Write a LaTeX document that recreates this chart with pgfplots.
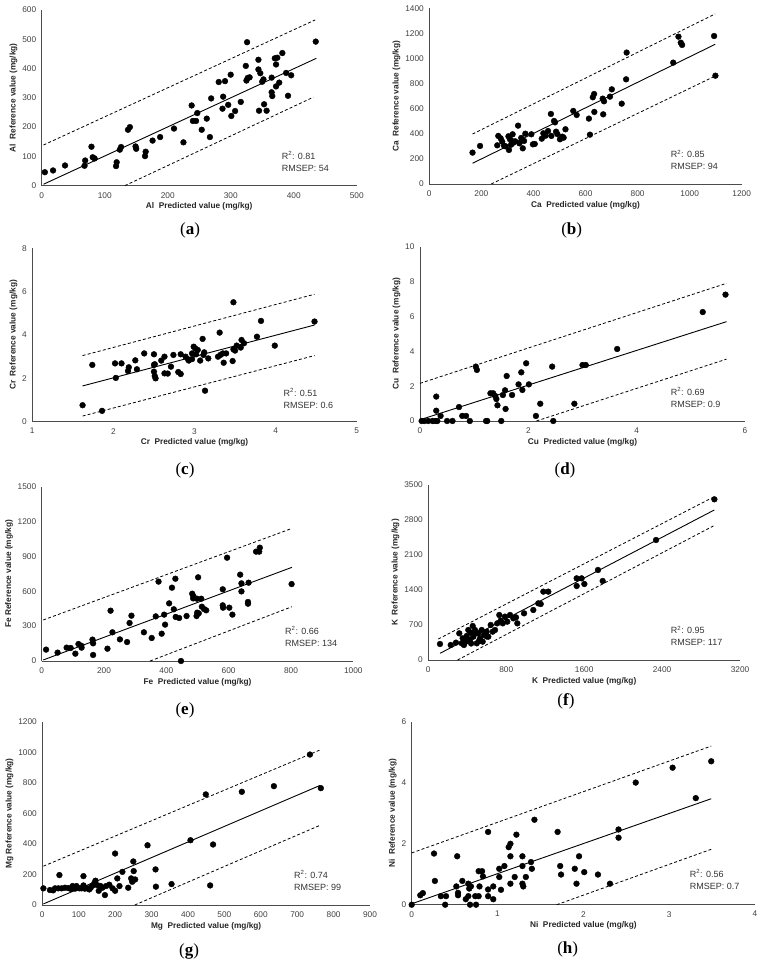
\documentclass[border=0pt]{standalone}
\usepackage{fontspec}
\setmainfont{Liberation Sans}
\newfontfamily\capfont{Liberation Serif}
\usepackage{pgfplots}
\pgfplotsset{compat=1.18}
\pgfplotsset{
  panel/.style={
    scale only axis, anchor=south west, clip=false,
    axis x line*=bottom, axis y line*=left,
    axis line style={black!70, line width=0.9pt},
    major tick length=0pt,
    /pgf/number format/assume math mode=true,
    /pgf/number format/1000 sep={},
    scaled ticks=false,
    tick label style={font=\fontsize{8.3}{9}\selectfont, text=black!75},
    xticklabel style={yshift=-3pt},
    yticklabel style={xshift=-2pt},
    label style={font=\bfseries\fontsize{8.3}{9}\selectfont, text=black!85},
    xlabel style={yshift=2pt},
    ylabel style={yshift=-2pt},
  },
  pts/.style={only marks, mark=*, mark size=2.9pt, black},
  fit/.style={no marks, black, line width=0.9pt},
  band/.style={no marks, black, line width=0.8pt, dash pattern=on 3pt off 2.2pt},
}
\newcommand{\stat}[3]{\node[anchor=west, align=left, font=\fontsize{9}{12}\selectfont, text=black!80] at (rel axis cs:#1) {R\textsuperscript{2}: #2\\RMSEP: #3};}
\begin{document}
\begin{tikzpicture}
\path[use as bounding box] (0pt,0pt) rectangle (763pt,965pt);
% (a)
\begin{axis}[panel, at={(41.7pt,779.3pt)}, width=315pt, height=175.7pt,
  xmin=0, xmax=500, ymin=0, ymax=600, xtick={0,100,...,500}, ytick={0,100,...,600},
  xlabel={Al\ \ Predicted value (mg/kg)}, ylabel={Al\ \ Reference value (mg/kg)}]
\addplot[band] coordinates {(3,139)(434,566)};
\addplot[band] coordinates {(132,0)(431,302)};
\addplot[fit] coordinates {(3,5)(436,435)};
\addplot[pts] coordinates {(5,46)(18,52)(37,69)(68,68)(69,86)(79,133)(81,97)(84,93)(118,67)(119,80)(124,123)(126,132)(137,191)(140,200)(149,134)(150,126)(164,101)(165,116)(176,154)(188,166)(210,195)(225,148)(238,274)(240,221)(245,221)(247,248)(254,191)(262,229)(267,166)(269,298)(281,354)(287,263)(288,304)(291,357)(296,276)(300,379)(301,238)(307,255)(316,286)(324,409)(326,490)(325,359)(327,368)(330,370)(344,430)(344,397)(345,256)(347,384)(350,355)(352,363)(353,278)(357,256)(365,369)(365,319)(366,306)(370,435)(372,414)(372,339)(374,437)(377,352)(382,453)(388,385)(391,307)(396,377)(435,492)};
\stat{0.751,0.14}{0.81}{54}
\end{axis}
% (b)
\begin{axis}[panel, at={(429.3pt,781pt)}, width=312.4pt, height=175.7pt,
  xmin=0, xmax=1200, ymin=0, ymax=1400, xtick={0,200,...,1200}, ytick={0,200,...,1400},
  xlabel={Ca\ \ Predicted value (mg/kg)}, ylabel={Ca\ \ Reference value (mg/kg)}]
\addplot[band] coordinates {(166,398)(1098,1355)};
\addplot[band] coordinates {(238,0)(1098,860)};
\addplot[fit] coordinates {(166,165)(1098,1113)};
\addplot[pts] coordinates {(166,250)(195,303)(261,308)(265,383)(274,364)(280,337)(287,305)(293,300)(304,380)(306,271)(310,356)(314,313)(317,343)(320,396)(323,329)(330,340)(341,465)(346,324)(353,367)(359,284)(364,343)(369,401)(392,396)(398,316)(405,319)(432,361)(438,404)(447,385)(456,422)(467,558)(469,383)(479,502)(483,491)(487,417)(492,398)(502,356)(511,377)(516,369)(523,436)(553,582)(566,550)(613,521)(617,393)(628,691)(633,717)(634,574)(668,555)(666,680)(671,659)(694,696)(701,754)(739,640)(756,834)(758,1047)(937,967)(957,1174)(966,1126)(971,1108)(1094,1179)(1099,863)};
\stat{0.762,0.137}{0.85}{94}
\end{axis}
% (c)
\begin{axis}[panel, at={(32.3pt,543.3pt)}, width=324.4pt, height=173.4pt,
  xmin=1, xmax=5, ymin=0, ymax=8, xtick={1,2,3,4,5}, ytick={0,2,4,6,8},
  xlabel={Cr\ \ Predicted value (mg/kg)}, ylabel={Cr\ \ Reference value (mg/kg)}]
\addplot[band] coordinates {(1.62,3.05)(4.48,5.88)};
\addplot[band] coordinates {(1.62,0.26)(4.48,3.05)};
\addplot[fit] coordinates {(1.62,1.65)(4.48,4.46)};
\addplot[pts] coordinates {(1.62,0.76)(1.86,0.5)(1.74,2.62)(2.02,2.69)(2.03,2.02)(2.10,2.69)(2.18,2.34)(2.19,2.51)(2.27,2.83)(2.29,2.42)(2.38,3.15)(2.50,3.11)(2.50,2.62)(2.51,2.65)(2.50,2.31)(2.51,2.11)(2.52,2.0)(2.59,2.82)(2.63,3.0)(2.63,2.23)(2.67,2.22)(2.71,2.54)(2.74,3.08)(2.80,2.29)(2.83,3.11)(2.83,2.20)(2.89,3.0)(2.92,2.88)(2.93,2.82)(2.97,3.15)(2.97,2.89)(2.99,3.46)(3.01,3.38)(3.02,3.11)(3.04,3.31)(3.07,2.82)(3.10,3.82)(3.11,3.08)(3.12,3.2)(3.13,1.43)(3.17,2.92)(3.31,4.11)(3.29,3.0)(3.32,3.08)(3.35,3.15)(3.36,2.72)(3.39,3.15)(3.47,2.80)(3.48,3.34)(3.48,5.51)(3.50,3.28)(3.52,3.51)(3.57,3.42)(3.58,3.77)(3.61,3.62)(3.77,3.92)(3.82,4.65)(3.99,3.51)(4.48,4.62)};
\stat{0.764,0.133}{0.51}{0.6}
\end{axis}
% (d)
\begin{axis}[panel, at={(420pt,544pt)}, width=325pt, height=174.3pt,
  xmin=0, xmax=6, ymin=0, ymax=10, xtick={0,2,4,6}, ytick={0,2,...,10},
  xlabel={Cu\ \ Predicted value (mg/kg)}, ylabel={Cu\ \ Reference value (mg/kg)}]
\addplot[band] coordinates {(0,2.16)(5.66,7.9)};
\addplot[band] coordinates {(2.15,0)(5.66,3.55)};
\addplot[fit] coordinates {(0.03,0.1)(5.66,5.70)};
\addplot[pts] coordinates {(0.03,0)(0.08,0)(0.15,0)(0.23,0)(0.28,0)(0.32,0)(0.50,0)(0.60,0)(0.92,0)(1.22,0)(1.24,0)(1.50,0)(2.46,0)(0.30,1.40)(0.30,0.59)(0.38,0.29)(0.72,0.80)(0.78,0.29)(0.85,0.29)(1.03,3.12)(1.05,2.93)(1.30,1.59)(1.35,1.59)(1.39,1.43)(1.41,1.26)(1.43,0.90)(1.53,1.49)(1.57,1.76)(1.58,0.69)(1.60,2.58)(1.70,1.49)(1.82,2.10)(1.87,2.79)(1.89,1.78)(1.96,3.31)(2.01,2.10)(2.14,0.29)(2.22,0.99)(2.44,3.12)(2.85,0.99)(3.0,3.21)(3.06,3.21)(3.64,4.13)(5.22,6.25)(5.64,7.25)};
\stat{0.761,0.135}{0.69}{0.9}
\end{axis}
% (e)
\begin{axis}[panel, at={(41.7pt,304pt)}, width=311.6pt, height=174.3pt,
  xmin=0, xmax=1000, ymin=0, ymax=1500, xtick={0,200,...,1000}, ytick={0,300,...,1500},
  xlabel={Fe\ \ Predicted value (mg/kg)}, ylabel={Fe Reference value (mg/kg)}]
\addplot[band] coordinates {(5,353)(803,1141)};
\addplot[band] coordinates {(348,0)(803,467)};
\addplot[fit] coordinates {(5,9)(803,806)};
\addplot[pts] coordinates {(14,98)(51,72)(80,115)(93,112)(108,63)(118,146)(127,132)(128,115)(163,184)(165,152)(165,52)(211,106)(221,433)(227,247)(251,186)(274,163)(282,327)(288,390)(328,247)(353,198)(366,384)(375,683)(385,235)(393,399)(396,313)(409,496)(418,631)(424,445)(429,708)(430,379)(441,370)(447,0)(465,387)(483,579)(486,539)(487,556)(498,536)(502,720)(497,387)(499,416)(504,410)(512,536)(514,467)(521,447)(528,436)(581,617)(582,459)(581,479)(595,889)(602,459)(612,399)(637,743)(641,668)(641,599)(662,508)(664,674)(662,493)(688,941)(698,941)(700,975)(802,662)};
\stat{0.77,0.142}{0.66}{134}
\end{axis}
% (f)
\begin{axis}[panel, at={(428.3pt,305pt)}, width=311.7pt, height=175pt,
  xmin=0, xmax=3200, ymin=0, ymax=3500, xtick={0,800,...,3200}, ytick={0,700,...,3500},
  xlabel={K\ \ Predicted value (mg/kg)}, ylabel={K\ \ Reference value (mg/kg)}]
\addplot[band] coordinates {(103,420)(2936,3267)};
\addplot[band] coordinates {(300,0)(2936,2690)};
\addplot[fit] coordinates {(120,133)(2936,3000)};
\addplot[pts] coordinates {(120,320)(230,300)(284,347)(318,533)(343,333)(353,433)(366,300)(387,367)(394,480)(411,600)(428,400)(435,547)(456,680)(462,467)(479,600)(497,333)(513,533)(531,433)(548,600)(558,367)(572,500)(599,567)(616,467)(641,700)(661,567)(685,600)(708,733)(729,900)(743,787)(764,733)(787,867)(811,767)(839,900)(873,833)(900,853)(914,733)(983,933)(1078,1000)(1129,1133)(1154,1120)(1181,1367)(1232,1367)(1523,1633)(1523,1480)(1574,1633)(1602,1520)(1742,1800)(1790,1580)(2338,2400)(2937,3213)(380,420)(440,330)(520,380)(600,470)(470,520)};
\stat{0.767,0.137}{0.95}{117}
\end{axis}
% (g)
\begin{axis}[panel, at={(42.3pt,60pt)}, width=327.7pt, height=183.3pt,
  xmin=0, xmax=900, ymin=0, ymax=1200, xtick={0,100,...,900}, ytick={0,200,...,1200},
  xlabel={Mg\ \ Predicted value (mg/kg)}, ylabel={Mg Reference value (mg/kg)}]
\addplot[band] coordinates {(3,254)(763,1015)};
\addplot[band] coordinates {(254,0)(763,522)};
\addplot[fit] coordinates {(3,7)(763,783)};
\addplot[pts] coordinates {(3,109)(21,98)(30,96)(35,109)(44,109)(47,196)(53,109)(62,113)(71,111)(79,104)(83,124)(90,107)(94,124)(102,109)(108,109)(113,189)(113,128)(117,107)(124,109)(129,102)(133,113)(138,128)(143,143)(146,159)(151,130)(155,93)(160,124)(165,113)(172,65)(175,124)(184,133)(193,109)(200,337)(200,93)(206,174)(212,124)(220,217)(236,113)(244,174)(247,152)(250,285)(251,222)(255,167)(289,391)(311,233)(312,120)(355,137)(407,424)(449,724)(461,128)(469,396)(548,741)(636,778)(735,985)(765,765)};
\stat{0.758,0.136}{0.74}{99}
\end{axis}
% (h)
\begin{axis}[panel, at={(411.7pt,60.3pt)}, width=343.3pt, height=182.7pt,
  xmin=0, xmax=4, ymin=0, ymax=6, xtick={0,1,2,3,4}, ytick={0,2,4,6},
  xlabel={Ni\ \ Predicted value (mg/kg)}, ylabel={Ni\ \ Reference value (mg/kg)}]
\addplot[band] coordinates {(0,1.70)(3.49,5.21)};
\addplot[band] coordinates {(1.69,0)(3.49,1.82)};
\addplot[fit] coordinates {(0,0.03)(3.49,3.48)};
\addplot[pts] coordinates {(0,0)(0.10,0.31)(0.13,0.38)(0.26,1.68)(0.27,0.78)(0.34,0.28)(0.39,0)(0.40,0.28)(0.52,0.60)(0.53,1.59)(0.54,0.39)(0.54,0.31)(0.59,0.78)(0.63,0.18)(0.66,0.69)(0.66,0.28)(0.67,0.53)(0.68,0)(0.69,0.60)(0.74,0.28)(0.75,0)(0.78,1.10)(0.78,0.28)(0.79,0.60)(0.82,1.10)(0.83,0.93)(0.89,2.39)(0.89,0.50)(0.89,0.28)(0.95,0.60)(0.95,0.18)(1.02,1.18)(1.02,0.91)(1.04,0.49)(1.08,1.27)(1.13,1.89)(1.15,1.59)(1.15,2.00)(1.15,0.69)(1.20,0.91)(1.22,2.30)(1.29,1.59)(1.29,1.27)(1.29,0.69)(1.30,0.60)(1.33,0.91)(1.39,1.40)(1.40,1.18)(1.43,2.79)(1.70,2.39)(1.73,1.27)(1.74,0.99)(1.90,1.18)(1.92,0.69)(1.95,1.59)(2.01,1.07)(2.17,0.99)(2.31,0.69)(2.41,2.47)(2.41,2.20)(2.61,4.01)(3.04,4.50)(3.31,3.50)(3.49,4.71)};
\stat{0.80,0.138}{0.56}{0.7}
\end{axis}
% captions
\node[font=\capfont\fontsize{17}{17}\selectfont] at (190pt,735pt) {(\textbf{a})};
\node[font=\capfont\fontsize{17}{17}\selectfont] at (571.7pt,735pt) {(\textbf{b})};
\node[font=\capfont\fontsize{17}{17}\selectfont] at (185pt,495pt) {(\textbf{c})};
\node[font=\capfont\fontsize{17}{17}\selectfont] at (565pt,495pt) {(\textbf{d})};
\node[font=\capfont\fontsize{17}{17}\selectfont] at (185pt,255pt) {(\textbf{e})};
\node[font=\capfont\fontsize{17}{17}\selectfont] at (566pt,263.3pt) {(\textbf{f})};
\node[font=\capfont\fontsize{17}{17}\selectfont] at (189pt,13.3pt) {(\textbf{g})};
\node[font=\capfont\fontsize{17}{17}\selectfont] at (567.7pt,15.7pt) {(\textbf{h})};
\end{tikzpicture}
\end{document}
